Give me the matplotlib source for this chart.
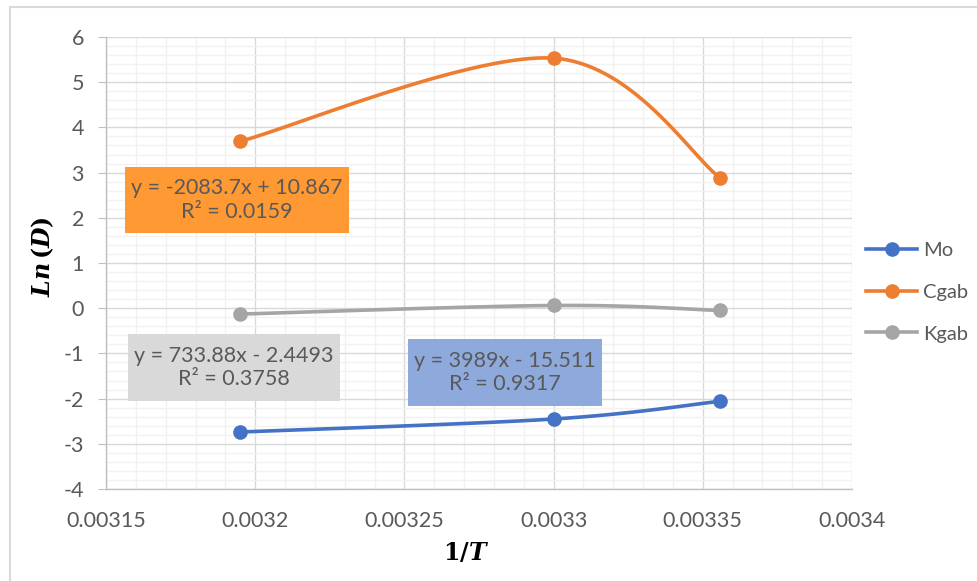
import numpy as np
import matplotlib
matplotlib.use("Agg")
import matplotlib.pyplot as plt
from matplotlib.lines import Line2D
from matplotlib.patches import Rectangle
from matplotlib.ticker import MultipleLocator

# ---- data ----
inv_T = [0.0031949, 0.0033003, 0.0033557]
mo = [-2.74, -2.45, -2.06]
cgab = [3.69, 5.53, 2.89]
kgab = [-0.13, 0.06, -0.05]
series_names = ["Mo", "Cgab", "Kgab"]
series_colors = ["#4472C4", "#ED7D31", "#A5A5A5"]
xticks = [0.00315, 0.0032, 0.00325, 0.0033, 0.00335, 0.0034]
xtick_labels = ["0.00315", "0.0032", "0.00325", "0.0033", "0.00335", "0.0034"]
yticks = [-4, -3, -2, -1, 0, 1, 2, 3, 4, 5, 6]
eq_texts = {
    "Cgab": "y = -2083.7x + 10.867\nR² = 0.0159",
    "Kgab": "y = 733.88x - 2.4493\nR² = 0.3758",
    "Mo": "y = 3989x - 15.511\nR² = 0.9317",
}

plt.rcParams["mathtext.fontset"] = "dejavuserif"
FONT = "Lato"
TXT = "#595959"
FS = 15.5
LFS = 14.5


def excel_smooth(xs, ys, n=60):
    xs = np.asarray(xs, float)
    ys = np.asarray(ys, float)
    px, py = [], []
    m = len(xs)
    for i in range(m - 1):
        x0, y0 = (xs[i - 1], ys[i - 1]) if i > 0 else (xs[i], ys[i])
        x1, y1 = xs[i], ys[i]
        x2, y2 = xs[i + 1], ys[i + 1]
        x3, y3 = (xs[i + 2], ys[i + 2]) if i + 2 < m else (xs[i + 1], ys[i + 1])
        c1x, c1y = x1 + (x2 - x0) / 6, y1 + (y2 - y0) / 6
        c2x, c2y = x2 - (x3 - x1) / 6, y2 - (y3 - y1) / 6
        t = np.linspace(0, 1, n)
        bx = (1 - t) ** 3 * x1 + 3 * (1 - t) ** 2 * t * c1x + 3 * (1 - t) * t ** 2 * c2x + t ** 3 * x2
        by = (1 - t) ** 3 * y1 + 3 * (1 - t) ** 2 * t * c1y + 3 * (1 - t) * t ** 2 * c2y + t ** 3 * y2
        px.extend(bx)
        py.extend(by)
    return np.array(px), np.array(py)


fig = plt.figure(figsize=(9.77, 5.81), dpi=100)
W, H = 977, 581
ax = fig.add_axes([106 / W, 1 - 489 / H, (852 - 106) / W, (489 - 37) / H])

# outer chart border
fig.patches.append(Rectangle((10 / W, -0.05), 1.1, 1 - 7 / H + 0.05, transform=fig.transFigure,
                             fill=False, edgecolor="#D9D9D9", linewidth=1.5, clip_on=False))

ax.set_xlim(0.00315, 0.0034)
ax.set_ylim(-4, 6)
ax.xaxis.set_major_locator(MultipleLocator(0.00005))
ax.xaxis.set_minor_locator(MultipleLocator(0.00001))
ax.yaxis.set_major_locator(MultipleLocator(1))
ax.yaxis.set_minor_locator(MultipleLocator(0.2))
ax.set_xticks(xticks)
ax.set_xticklabels(xtick_labels)
ax.set_yticks(yticks)
ax.set_yticklabels([str(v) for v in yticks])
ax.grid(which="minor", color="#F2F2F2", linewidth=1.0)
ax.grid(which="major", color="#D9D9D9", linewidth=1.0)
ax.set_axisbelow(True)
for s in ["top", "right"]:
    ax.spines[s].set_visible(False)
ax.spines["left"].set_color("#BFBFBF")
ax.spines["bottom"].set_color("#BFBFBF")
ax.spines["left"].set_linewidth(1.0)
ax.spines["bottom"].set_linewidth(1.0)
ax.tick_params(axis="y", which="major", length=5.8, color="#BFBFBF", pad=10, labelsize=FS, labelcolor=TXT)
ax.tick_params(axis="x", which="major", length=0, pad=16, labelsize=FS, labelcolor=TXT)
ax.tick_params(which="minor", length=0)
for lab in ax.get_xticklabels() + ax.get_yticklabels():
    lab.set_fontfamily(FONT)

data = {"Mo": mo, "Cgab": cgab, "Kgab": kgab}
handles = []
for name, col in zip(series_names, series_colors):
    ys = data[name]
    sx, sy = excel_smooth(inv_T, ys)
    ax.plot(sx, sy, color=col, linewidth=2.6, solid_capstyle="round", zorder=3)
    ax.plot(inv_T, ys, linestyle="none", marker="o", markersize=9.5, color=col, zorder=4)
    handles.append(Line2D([0], [0], color=col, linewidth=2.6, marker="o", markersize=9.5))

lfs_px = LFS * 100 / 72
leg = fig.legend(handles, series_names, loc="center left", bbox_to_anchor=(866 / W, 1 - 292 / H),
                 frameon=False, prop={"family": FONT, "size": LFS}, handlelength=51 / lfs_px,
                 labelspacing=(45 - lfs_px) / lfs_px, handletextpad=6 / lfs_px,
                 borderpad=0, borderaxespad=0)
for t in leg.get_texts():
    t.set_color(TXT)

# equation boxes (figure pixel coordinates)
boxes = [("Cgab", 125, 167, 349, 233, "#FF9933"),
         ("Kgab", 128, 334, 340, 401, "#D9D9D9"),
         ("Mo", 408, 339, 602, 406, "#8EA9DB")]
for name, x0, y0, x1, y1, fc in boxes:
    fig.patches.append(Rectangle((x0 / W, 1 - y1 / H), (x1 - x0) / W, (y1 - y0) / H,
                                 transform=fig.transFigure, facecolor=fc, edgecolor="none", zorder=5))
    fig.text((x0 + x1) / 2 / W, 1 - (y0 + y1) / 2 / H, eq_texts[name], ha="center", va="center",
             fontsize=FS, color=TXT, family=FONT, linespacing=1.2, zorder=6)

fig.text(43 / W, 1 - 257 / H, r"$\mathbfit{Ln}\,\mathbf{(}\mathbfit{D}\mathbf{)}$", rotation=90,
         ha="center", va="center", fontsize=17, color="black")
fig.text(466 / W, 1 - 553 / H, r"$\mathbf{1/}\mathbfit{T}$", ha="center", va="center",
         fontsize=17, color="black")

fig.savefig("out.png", dpi=100)
